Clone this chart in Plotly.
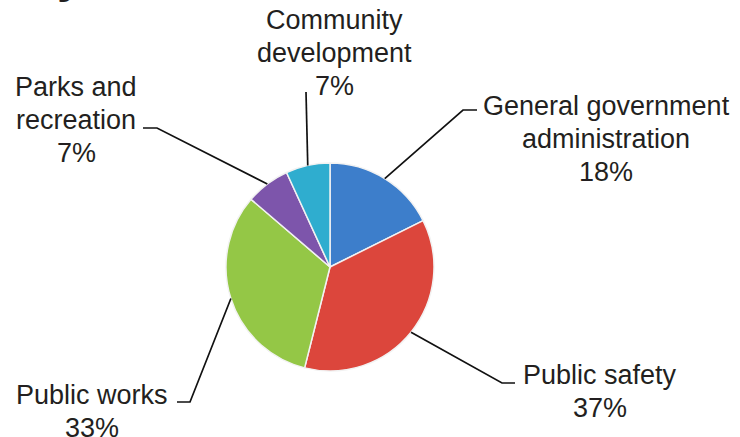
import numpy as np
import plotly.graph_objects as go

# ---- data ----
categories = ["General government administration", "Public safety", "Public works",
              "Parks and recreation", "Community development"]
label_lines = [["General government", "administration"], ["Public safety"], ["Public works"],
               ["Parks and", "recreation"], ["Community", "development"]]
values = [18, 37, 33, 7, 7]
colors = ["#3d7ecb", "#dc463c", "#94c746", "#7d55ab", "#2fadcf"]

# ---- layout constants (pixels) ----
W, H = 740, 437
CX, CY, R = 330, 267, 104
LINE_GAP = 33
label_anchor = [(606, 106), (600, 375), (92, 395), (76, 87), (334, 20)]  # center x, first line center y
elbow = [(463, 110), (502, 383), (190, 402), (157, 128), (306, 92)]
elbow_end = [(477, 110), (515, 383), (177, 402), (143, 128), None]
FONT = "Liberation Sans, Arial, sans-serif"

def px(x):
    return x / W

def py(y):
    return 1 - y / H

fig = go.Figure()
fig.add_trace(go.Pie(
    labels=categories, values=values, sort=False, direction="clockwise", rotation=0,
    marker=dict(colors=colors, line=dict(color="#f2f2f2", width=1.5)),
    textinfo="none", hoverinfo="label+value", showlegend=False,
    domain=dict(x=[px(CX - R), px(CX + R)], y=[py(CY + R), py(CY - R)]),
))

total = float(sum(values))
cum = np.cumsum([0] + values[:-1]) / total
mids = (cum + np.array(values) / total / 2) * 2 * np.pi

shapes = []
annotations = []
for i, cat in enumerate(categories):
    a = mids[i]
    sx, sy = CX + R * np.sin(a), CY - R * np.cos(a)
    ex, ey = elbow[i]
    path = f"M {px(sx)},{py(sy)} L {px(ex)},{py(ey)}"
    if elbow_end[i] is not None:
        hx, hy = elbow_end[i]
        path += f" L {px(hx)},{py(hy)}"
    shapes.append(dict(type="path", path=path, xref="paper", yref="paper",
                       line=dict(color="#111111", width=1.7)))
    lx, ly = label_anchor[i]
    lines = label_lines[i] + [f"{values[i]}%"]
    for k, t in enumerate(lines):
        annotations.append(dict(
            text=t, x=px(lx), y=py(ly + k * LINE_GAP),
            xref="paper", yref="paper", xanchor="center", yanchor="middle",
            showarrow=False, align="center",
            font=dict(family=FONT, size=27, color="#231f20"),
        ))

# cut-off title remnant at top-left
annotations.append(dict(text="<b>y</b>", x=px(70), y=py(-24), xref="paper", yref="paper",
                        xanchor="center", yanchor="middle", showarrow=False,
                        font=dict(family=FONT, size=48, color="#231f20")))

fig.update_layout(
    width=W, height=H, margin=dict(l=0, r=0, t=0, b=0),
    paper_bgcolor="white", plot_bgcolor="white",
    shapes=shapes, annotations=annotations,
)

fig.write_html("out.html")
